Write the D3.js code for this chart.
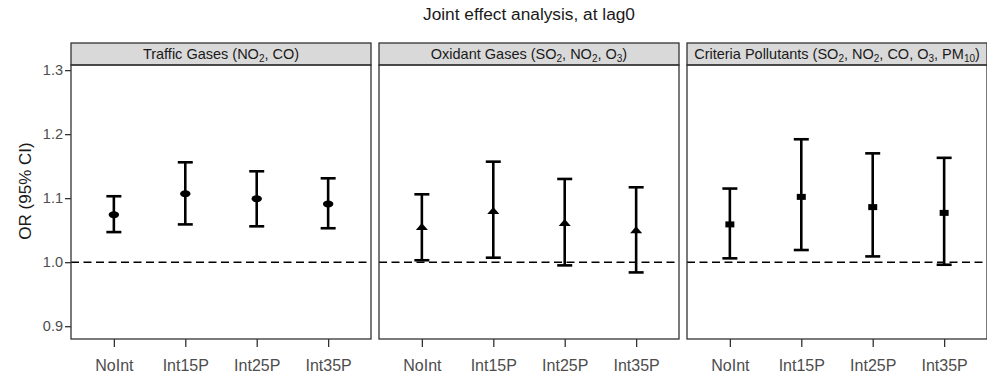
<!DOCTYPE html>
<html>
<head>
<meta charset="utf-8">
<script src="https://cdn.jsdelivr.net/npm/d3@7"></script>
<style>
  body { margin: 0; background: #fff; }
  text { font-family: "Liberation Sans", Arial, sans-serif; }
</style>
</head>
<body>
<div id="chart"></div>
<script>
const categories = ["NoInt", "Int15P", "Int25P", "Int35P"];
// panel titles, {x} marks a subscript
const panelTitles = [
  "Traffic Gases (NO{2}, CO)",
  "Oxidant Gases (SO{2}, NO{2}, O{3})",
  "Criteria Pollutants (SO{2}, NO{2}, CO, O{3}, PM{10})"
];
const panelShapes = ["circle", "triangle", "square"];

const trafficOR = [1.074, 1.107, 1.099, 1.091];
const trafficLo = [1.047, 1.059, 1.056, 1.053];
const trafficHi = [1.103, 1.156, 1.142, 1.131];

const oxidantOR = [1.054, 1.079, 1.060, 1.049];
const oxidantLo = [1.003, 1.007, 0.995, 0.984];
const oxidantHi = [1.106, 1.157, 1.130, 1.117];

const criteriaOR = [1.059, 1.102, 1.086, 1.077];
const criteriaLo = [1.006, 1.019, 1.009, 0.996];
const criteriaHi = [1.115, 1.192, 1.170, 1.163];

const yTicks = [0.9, 1.0, 1.1, 1.2, 1.3];

const panelData = [
  [trafficOR, trafficLo, trafficHi],
  [oxidantOR, oxidantLo, oxidantHi],
  [criteriaOR, criteriaLo, criteriaHi]
];

const width = 987, height = 380;
const left = 71, stripTop = 43, panelTop = 65, panelBottom = 339;
const panelW = 300, gap = 8;
const textCol = "#4d4d4d", lineCol = "#333";

const svg = d3.select("#chart").append("svg")
  .attr("width", width)
  .attr("height", height);

const y = d3.scaleLinear().domain([0.880, 1.308]).range([panelBottom, panelTop]);

// title
svg.append("text")
  .attr("x", left + (3 * panelW + 2 * gap) / 2)
  .attr("y", 20)
  .attr("text-anchor", "middle")
  .style("font-size", "17.3px")
  .attr("fill", "#1a1a1a")
  .text("Joint effect analysis, at lag0");

// y title
svg.append("text")
  .attr("transform", `translate(31,${(stripTop + panelBottom) / 2}) rotate(-90)`)
  .attr("text-anchor", "middle")
  .style("font-size", "17px")
  .attr("fill", "#1a1a1a")
  .text("OR (95% CI)");

const symbolFor = {
  circle: d3.symbol(d3.symbolCircle, 38),
  triangle: d3.symbol(d3.symbolTriangle, 28),
  square: d3.symbol(d3.symbolSquare, 36)
};

panelData.forEach((pd, i) => {
  const x0 = left + i * (panelW + gap);
  const g = svg.append("g").attr("transform", `translate(${x0},0)`);
  const x = d3.scalePoint().domain(categories).range([0, panelW]).padding(0.6);

  // strip
  g.append("rect")
    .attr("x", 0).attr("y", stripTop)
    .attr("width", panelW).attr("height", panelTop - stripTop)
    .attr("fill", "#d9d9d9").attr("stroke", lineCol).attr("stroke-width", 1.3);

  const st = g.append("text")
    .attr("x", panelW / 2)
    .attr("y", (stripTop + panelTop) / 2 + 5)
    .attr("text-anchor", "middle")
    .style("font-size", "14.5px")
    .attr("fill", "#1a1a1a");
  let shift = 0;
  panelTitles[i].split(/(\{[^}]*\})/).filter(s => s.length).forEach(s => {
    if (s[0] === "{") {
      st.append("tspan").attr("dy", 3).style("font-size", "10px").text(s.slice(1, -1));
      shift = -3;
    } else {
      st.append("tspan").attr("dy", shift).text(s);
      shift = 0;
    }
  });

  // reference line
  g.append("line")
    .attr("x1", 0).attr("x2", panelW)
    .attr("y1", y(1)).attr("y2", y(1))
    .attr("stroke", "#000").attr("stroke-width", 1.6)
    .attr("stroke-dasharray", "8,4.5");

  const rows = categories.map((c, k) => ({ c, or: pd[0][k], lo: pd[1][k], hi: pd[2][k] }));

  const bars = g.selectAll(".eb").data(rows).enter().append("g").attr("class", "eb");
  bars.append("line")
    .attr("x1", d => x(d.c)).attr("x2", d => x(d.c))
    .attr("y1", d => y(d.lo)).attr("y2", d => y(d.hi))
    .attr("stroke", "#000").attr("stroke-width", 2.6);
  ["lo", "hi"].forEach(k => {
    bars.append("line")
      .attr("x1", d => x(d.c) - 7.5).attr("x2", d => x(d.c) + 7.5)
      .attr("y1", d => y(d[k])).attr("y2", d => y(d[k]))
      .attr("stroke", "#000").attr("stroke-width", 2.6);
  });
  bars.append("path")
    .attr("d", symbolFor[panelShapes[i]])
    .attr("transform", d => `translate(${x(d.c)},${y(d.or)}) scale(1.5,1)`)
    .attr("fill", "#000");

  // panel border
  g.append("rect")
    .attr("x", 0).attr("y", panelTop)
    .attr("width", panelW).attr("height", panelBottom - panelTop)
    .attr("fill", "none").attr("stroke", lineCol).attr("stroke-width", 1.3);

  // x axis
  const xa = g.append("g")
    .attr("transform", `translate(0,${panelBottom})`)
    .call(d3.axisBottom(x).tickSize(8).tickPadding(13));
  xa.select(".domain").remove();
  xa.selectAll("line").attr("stroke", lineCol).attr("stroke-width", 1.3);
  xa.selectAll("text").attr("fill", textCol).style("font-size", "16px");

  if (i === 0) {
    const ya = g.append("g")
      .call(d3.axisLeft(y).tickValues(yTicks).tickFormat(d3.format(".1f")).tickSize(6).tickPadding(2));
    ya.select(".domain").remove();
    ya.selectAll("line").attr("stroke", lineCol).attr("stroke-width", 1.3);
    ya.selectAll("text").attr("fill", textCol).style("font-size", "14.5px");
  }
});
</script>
</body>
</html>
